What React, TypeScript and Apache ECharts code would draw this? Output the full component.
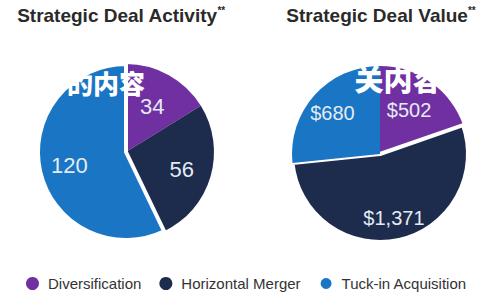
import React, { useEffect, useRef } from 'react';
import * as echarts from 'echarts';

const categories = ['Diversification', 'Horizontal Merger', 'Tuck-in Acquisition'];
const activityValues = [34, 56, 120];
const dealValues = [502, 1371, 680];
const colors = ['#7030a2', '#1d2b4d', '#1a75c4'];
const titles = ['Strategic Deal Activity', 'Strategic Deal Value'];
const watermarks = ['的内容', '关内容'];

const FONT = '"Liberation Sans", Arial, Helvetica, sans-serif';

function pieData(values: number[], borderIdx: number) {
  return categories.map((name, i) => ({
    name,
    value: values[i],
    itemStyle: {
      color: colors[i],
      borderColor: '#ffffff',
      borderWidth: i === borderIdx ? 4 : 0,
    },
  }));
}

function labelData(values: number[]) {
  return categories.map((name, i) => ({ name: name + ' ', value: values[i] }));
}

function titleText(x: number, text: string) {
  return {
    type: 'text',
    x,
    y: 15,
    style: {
      text: text + '{s|**}',
      fill: '#2a2a2a',
      fontSize: 19,
      fontWeight: 'bold',
      fontFamily: FONT,
      align: 'center',
      verticalAlign: 'middle',
      textAlign: 'center',
      textVerticalAlign: 'middle',
      rich: { s: { fontSize: 10, fontWeight: 'bold', fill: '#2a2a2a', verticalAlign: 'top', fontFamily: FONT } },
    },
  };
}

function markText(x: number, y: number, text: string, size: number) {
  return {
    type: 'text',
    x,
    y,
    z: 100,
    style: {
      text,
      fill: '#ffffff',
      fontSize: size,
      fontWeight: 900,
      fontFamily: '"Noto Sans CJK SC"',
      align: 'center',
      verticalAlign: 'middle',
      textAlign: 'center',
      textVerticalAlign: 'middle',
    },
  };
}

export default function App() {
  const ref = useRef<HTMLDivElement>(null);
  useEffect(() => {
    if (!ref.current) return;
    const chart = echarts.init(ref.current, undefined, { renderer: 'svg' });
    const labelSeries = (
      center: number[],
      radius: number,
      values: number[],
      fmt: (v: number) => string,
      size: number,
      firstShift: number[]
    ) => ({
      type: 'pie',
      center,
      radius,
      startAngle: 90,
      silent: true,
      data: labelData(values),
      itemStyle: { color: 'rgba(0,0,0,0)' },
      label: {
        show: true,
        position: 'inside',
        formatter: (p: any) => fmt(p.value),
        color: '#e4ebf2',
        fontSize: size,
        fontFamily: FONT,
      },
      labelLayout: (p: any) => (p.dataIndex === 0 ? { dx: firstShift[0], dy: firstShift[1] } : {}),
      labelLine: { show: false },
      emphasis: { disabled: true },
      tooltip: { show: false },
      z: 5,
    });
    chart.setOption({
      animation: false,
      backgroundColor: '#ffffff',
      legend: {
        data: categories,
        top: 271,
        left: 21,
        icon: 'circle',
        itemWidth: 13,
        itemHeight: 13,
        itemGap: 18,
        textStyle: { fontSize: 15, color: '#333333', fontFamily: FONT, padding: [0, 0, 0, 4] },
      },
      graphic: [
        titleText(121, titles[0]),
        titleText(381, titles[1]),
        markText(106, 82, watermarks[0], 26),
        markText(398, 78, watermarks[1], 29),
      ],
      series: [
        {
          type: 'pie',
          center: [126, 152],
          radius: 88,
          startAngle: 90,
          data: pieData(activityValues, 2),
          label: { show: false },
          labelLine: { show: false },
          emphasis: { disabled: true },
        },
        {
          type: 'pie',
          center: [380, 154],
          radius: 88,
          startAngle: 90,
          data: pieData(dealValues, 1),
          label: { show: false },
          labelLine: { show: false },
          emphasis: { disabled: true },
        },
        labelSeries([126, 153], 110, activityValues, (v) => String(v), 22, [-2, 4]),
        labelSeries([380, 156], 122, dealValues, (v) => '$' + v.toLocaleString('en-US'), 20, [-8, 6]),
      ],
    });
    return () => chart.dispose();
  }, []);
  return <div ref={ref} style={{ position: 'fixed', left: 0, top: 0, width: 500, height: 300 }} />;
}
